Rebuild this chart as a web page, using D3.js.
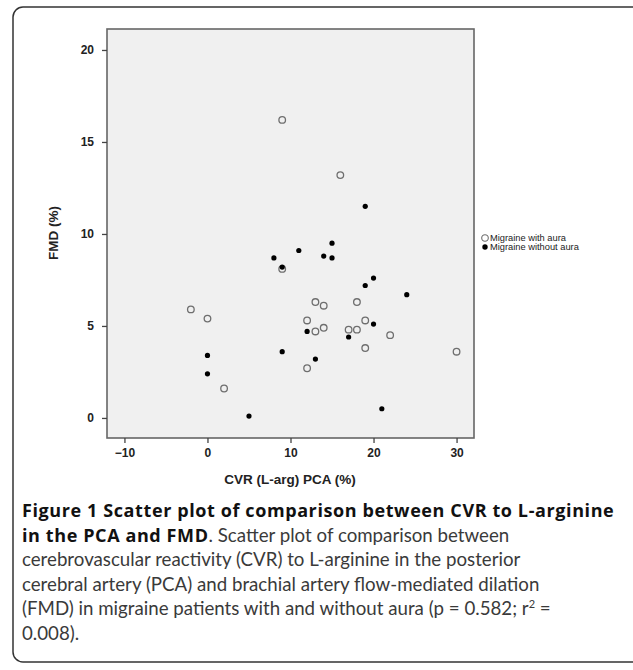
<!DOCTYPE html>
<html>
<head>
<meta charset="utf-8">
<script src="https://cdn.jsdelivr.net/npm/d3@7"></script>
<style>
  body { margin: 0; background: #fff; }
  svg { display: block; }
  .tick text { font-family: "Liberation Sans", Arial, sans-serif; font-weight: bold; font-size: 12px; fill: #222; }
  .tick line { stroke: #444; stroke-width: 1.3; }
  .axis-label { font-family: "Liberation Sans", Arial, sans-serif; font-weight: bold; font-size: 13.5px; fill: #222; }
  .legend-label { font-family: "Liberation Sans", Arial, sans-serif; font-size: 9.3px; fill: #222; }
  .caption { font-family: "Lato", "Open Sans", sans-serif; font-size: 18.7px; fill: #3a3a3a; }
  .caption .b { font-family: "Open Sans", sans-serif; font-size: 18px; font-weight: bold; letter-spacing: 0.6px; fill: #111; }
</style>
</head>
<body>
<svg id="chart" width="633" height="670"></svg>
<script>
// Migraine with aura (open circles): [CVR %, FMD %]
const withAura = [
  [9, 16.2], [16, 13.2], [9, 8.1], [-2, 5.9], [0, 5.4], [2, 1.6],
  [13, 6.3], [14, 6.1], [18, 6.3], [12, 5.3], [13, 4.7], [14, 4.9],
  [19, 5.3], [17, 4.8], [18, 4.8], [22, 4.5], [19, 3.8], [30, 3.6], [12, 2.7]
];
// Migraine without aura (filled dots)
const withoutAura = [
  [19, 11.5], [11, 9.1], [15, 9.5], [14, 8.8], [15, 8.7], [8, 8.7],
  [9, 8.2], [20, 7.6], [19, 7.2], [24, 6.7], [12, 4.7], [20, 5.1],
  [17, 4.4], [9, 3.6], [13, 3.2], [0, 3.4], [0, 2.4], [5, 0.1], [21, 0.5]
];
const xTicks = [-10, 0, 10, 20, 30];
const yTicks = [0, 5, 10, 15, 20];
const legendLabels = ["Migraine with aura", "Migraine without aura"];

const svg = d3.select("#chart");

// outer figure frame
svg.append("rect")
  .attr("x", 13).attr("y", 7)
  .attr("width", 640).attr("height", 655)
  .attr("rx", 10)
  .attr("fill", "none")
  .attr("stroke", "#333")
  .attr("stroke-width", 1.5);

const plot = { left: 107, right: 474, top: 29, bottom: 438 };

const x = d3.scaleLinear().domain([-12.1, 32.1]).range([plot.left, plot.right]);
const y = d3.scaleLinear().domain([-1.09, 21.14]).range([plot.bottom, plot.top]);

svg.append("rect")
  .attr("x", plot.left).attr("y", plot.top)
  .attr("width", plot.right - plot.left)
  .attr("height", plot.bottom - plot.top)
  .attr("fill", "#f0f0f0")
  .attr("stroke", "#666")
  .attr("stroke-width", 1.6);

svg.append("g")
  .attr("transform", `translate(0,${plot.bottom})`)
  .call(d3.axisBottom(x).tickValues(xTicks).tickSize(5).tickSizeOuter(0).tickPadding(5))
  .call((g) => g.select(".domain").remove());

svg.append("g")
  .attr("transform", `translate(${plot.left},0)`)
  .call(d3.axisLeft(y).tickValues(yTicks).tickSize(5).tickSizeOuter(0).tickPadding(8))
  .call((g) => g.select(".domain").remove());

svg.append("text")
  .attr("class", "axis-label")
  .attr("x", 290).attr("y", 484)
  .attr("text-anchor", "middle")
  .text("CVR (L-arg) PCA (%)");

svg.append("text")
  .attr("class", "axis-label")
  .attr("transform", "translate(58,233) rotate(-90)")
  .attr("text-anchor", "middle")
  .text("FMD (%)");

// points
svg.append("g")
  .selectAll("circle")
  .data(withAura)
  .join("circle")
  .attr("cx", (d) => x(d[0]))
  .attr("cy", (d) => y(d[1]))
  .attr("r", 3.3)
  .attr("fill", "none")
  .attr("stroke", "#6e6e6e")
  .attr("stroke-width", 1.3);

svg.append("g")
  .selectAll("circle")
  .data(withoutAura)
  .join("circle")
  .attr("cx", (d) => x(d[0]))
  .attr("cy", (d) => y(d[1]))
  .attr("r", 2.6)
  .attr("fill", "#000");

// legend
const legend = svg.append("g").attr("transform", "translate(485,238)");
legend.append("circle").attr("r", 3.3).attr("fill", "none").attr("stroke", "#6e6e6e").attr("stroke-width", 1.1);
legend.append("circle").attr("cy", 9).attr("r", 2.7).attr("fill", "#000");
legend.selectAll("text.legend-label")
  .data(legendLabels)
  .join("text")
  .attr("class", "legend-label")
  .attr("x", 5)
  .attr("y", (d, i) => i * 9)
  .attr("dy", "0.35em")
  .text((d) => d);

// caption
const cap = svg.append("text").attr("class", "caption").attr("x", 22);
const lines = [
  [["b", "Figure 1 Scatter plot of comparison between CVR to L-arginine"]],
  [["b", "in the PCA and FMD"], ["", ". Scatter plot of comparison between"]],
  [["", "cerebrovascular reactivity (CVR) to L-arginine in the posterior"]],
  [["", "cerebral artery (PCA) and brachial artery flow-mediated dilation"]],
  [["", "(FMD) in migraine patients with and without aura (p = 0.582; r"], ["sup", "2"], ["", " ="]],
  [["", "0.008)."]]
];
lines.forEach((parts, i) => {
  parts.forEach((p, j) => {
    const t = cap.append("tspan").text(p[1]);
    if (j === 0) t.attr("x", 22).attr("y", 517 + i * 24.6);
    if (p[0] === "b") t.attr("class", "b");
    if (p[0] === "sup") t.attr("dy", -7).attr("font-size", "11px");
    if (j > 0 && parts[j - 1][0] === "sup") t.attr("dy", 7);
  });
});
</script>
</body>
</html>
